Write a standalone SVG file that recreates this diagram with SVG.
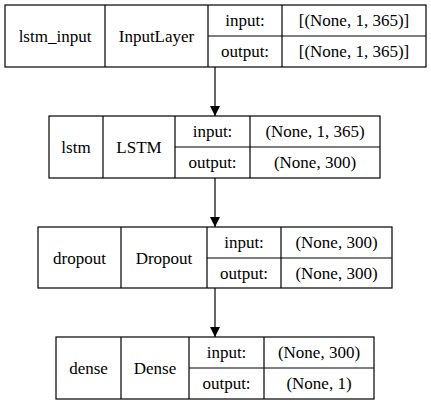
<svg xmlns="http://www.w3.org/2000/svg" width="431" height="405" viewBox="0 0 431 405">
<style>
.b{fill:#fff;stroke:#000;stroke-width:1.2}
.l{stroke:#000;stroke-width:1.2;fill:none}
text{font-size:17px;fill:#000;text-anchor:middle}
</style>
<defs>
<marker id="ah" viewBox="0 0 10 14" refX="10" refY="7" markerWidth="10" markerHeight="14" markerUnits="userSpaceOnUse" orient="auto">
<path d="M0,2 L10,7 L0,12 Z" fill="#000"/>
</marker>
</defs>
<rect width="431" height="405" fill="#fff"/>
<g id="connectors">
<line class="l" x1="215" y1="67" x2="215" y2="116" marker-end="url(#ah)"/>
<line class="l" x1="215" y1="178" x2="215" y2="227" marker-end="url(#ah)"/>
<line class="l" x1="215" y1="288" x2="215" y2="337" marker-end="url(#ah)"/>
</g>
<g id="lstm_input" font-family="Liberation Serif, DejaVu Serif, serif">
<rect class="b" x="5" y="5" width="421" height="62"/>
<path class="l" d="M105,5V67M208,5V67M282,5V67M208,36H426"/>
<text x="55" y="42">lstm_input</text>
<text x="156.5" y="42">InputLayer</text>
<text x="245" y="26">input:</text>
<text x="354" y="26">[(None, 1, 365)]</text>
<text x="245" y="57">output:</text>
<text x="354" y="57">[(None, 1, 365)]</text>
</g>
<g id="lstm" font-family="Liberation Serif, DejaVu Serif, serif">
<rect class="b" x="49" y="116" width="331" height="62"/>
<path class="l" d="M103,116V178M175,116V178M250,116V178M175,147H380"/>
<text x="76" y="153">lstm</text>
<text x="139" y="153">LSTM</text>
<text x="212.5" y="137">input:</text>
<text x="315" y="137">(None, 1, 365)</text>
<text x="212.5" y="168">output:</text>
<text x="315" y="168">(None, 300)</text>
</g>
<g id="dropout" font-family="Liberation Serif, DejaVu Serif, serif">
<rect class="b" x="38" y="227" width="354" height="61"/>
<path class="l" d="M121,227V288M207,227V288M281,227V288M207,258H392"/>
<text x="79.5" y="263.5">dropout</text>
<text x="164" y="263.5">Dropout</text>
<text x="244" y="248">input:</text>
<text x="336.5" y="248">(None, 300)</text>
<text x="244" y="279">output:</text>
<text x="336.5" y="279">(None, 300)</text>
</g>
<g id="dense" font-family="Liberation Serif, DejaVu Serif, serif">
<rect class="b" x="56" y="337" width="318" height="62"/>
<path class="l" d="M121,337V399M189,337V399M264,337V399M189,368H374"/>
<text x="88.5" y="374">dense</text>
<text x="155" y="374">Dense</text>
<text x="226.5" y="358">input:</text>
<text x="319" y="358">(None, 300)</text>
<text x="226.5" y="389">output:</text>
<text x="319" y="389">(None, 1)</text>
</g>
</svg>
